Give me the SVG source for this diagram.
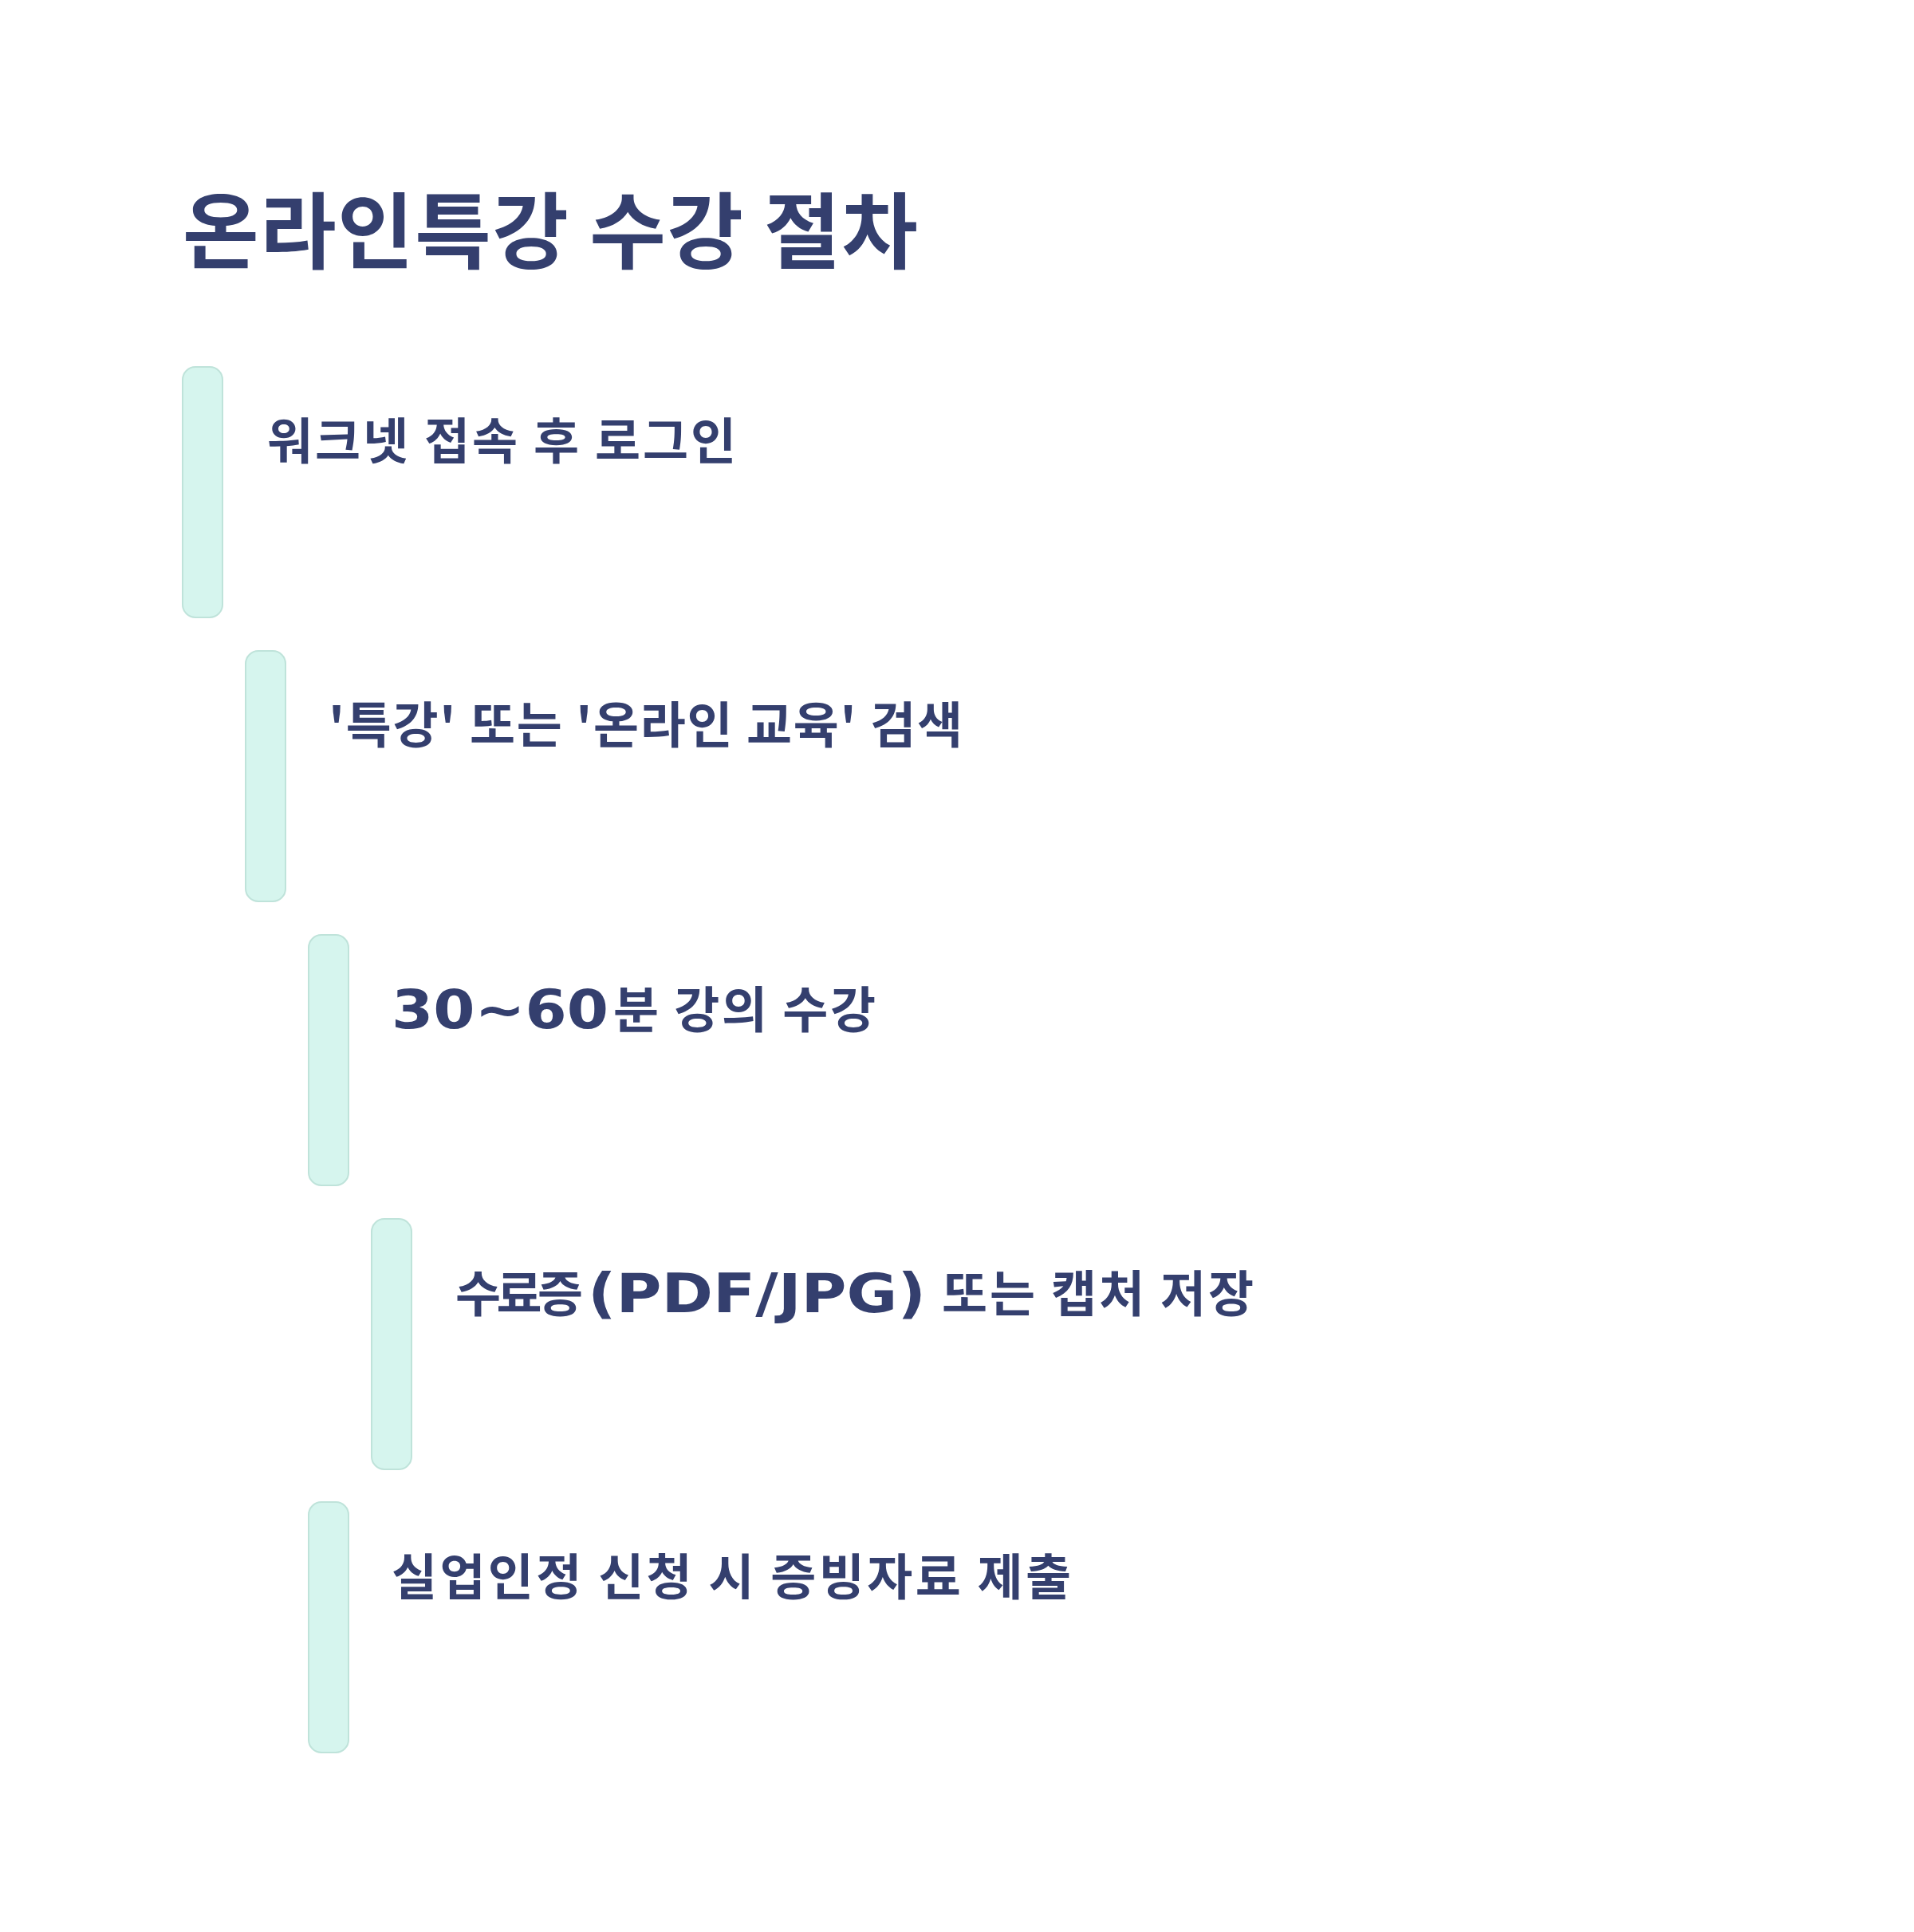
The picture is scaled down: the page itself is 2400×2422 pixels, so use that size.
<svg xmlns="http://www.w3.org/2000/svg" width="2400" height="2422" viewBox="0 0 2400 2422">
<style>
.bar{fill:#d6f5ee;stroke:#bfe3da;stroke-width:2}
.t{font-family:"Noto Sans CJK KR","Noto Sans",sans-serif;font-weight:700;fill:#343f6e}
.title{font-size:104px}
.lbl{font-size:62px}
.lat{font-family:"DejaVu Sans","Noto Sans CJK KR",sans-serif;font-size:68px;font-weight:700}
</style>
<rect width="2400" height="2422" fill="#ffffff"/>
<text class="t title" x="229" y="329" textLength="922" lengthAdjust="spacing">온라인특강 수강 절차</text>
<g id="step1"><rect class="bar" x="229" y="460" width="50" height="314" rx="16"/><text class="t lbl" x="335" y="576" textLength="588" lengthAdjust="spacing">워크넷 접속 후 로그인</text></g>
<g id="step2"><rect class="bar" x="308" y="816" width="50" height="314" rx="16"/><text class="t lbl" x="412" y="932" textLength="795" lengthAdjust="spacing">'특강' 또는 '온라인 교육' 검색</text></g>
<g id="step3"><rect class="bar" x="387" y="1172" width="50" height="314" rx="16"/><text class="t lbl" x="491" y="1289"><tspan class="lat" textLength="272" lengthAdjust="spacingAndGlyphs">30~60</tspan><tspan x="769" textLength="329" lengthAdjust="spacing">분 강의 수강</tspan></text></g>
<g id="step4"><rect class="bar" x="466" y="1528" width="50" height="314" rx="16"/><text class="t lbl" x="571" y="1645"><tspan textLength="160" lengthAdjust="spacing">수료증</tspan><tspan class="lat" x="737" textLength="424" lengthAdjust="spacingAndGlyphs">(PDF/JPG)</tspan><tspan x="1181" textLength="391" lengthAdjust="spacing">또는 캡처 저장</tspan></text></g>
<g id="step5"><rect class="bar" x="387" y="1883" width="50" height="314" rx="16"/><text class="t lbl" x="491" y="2000" textLength="852" lengthAdjust="spacing">실업인정 신청 시 증빙자료 제출</text></g>
<g id="connectors"></g>
</svg>
